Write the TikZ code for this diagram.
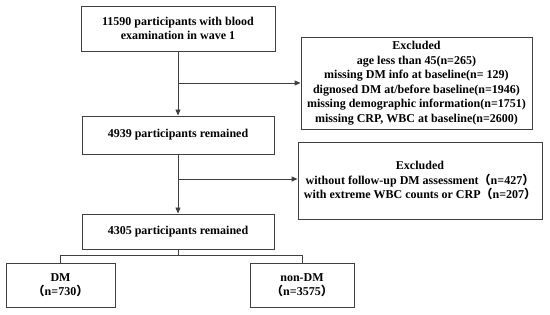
\documentclass[tikz,border=0pt]{standalone}
\usepackage{fontspec}
\setmainfont{Liberation Serif}
\newfontfamily\cjk{Noto Sans CJK SC}
\usetikzlibrary{arrows.meta}
\definecolor{linec}{HTML}{404040}
\begin{document}
\begin{tikzpicture}[x=1pt,y=-1pt,
  box/.style={draw=linec,line width=0.9pt,rectangle,align=center,font=\fontsize{12}{14.5}\selectfont\bfseries,inner sep=0pt},
  conn/.style={draw=linec,line width=0.9pt},
  arr/.style={conn,-{Triangle[length=6pt,width=5pt]}}]
\useasboundingbox (0,0) rectangle (550,315);
\node[box,minimum width=194pt,minimum height=45pt] (b1) at (178,28.5) {11590 participants with blood\\examination in wave 1};
\node[box,minimum width=231pt,minimum height=92pt] (e1) at (416.5,83) {Excluded\\age less than 45(n=265)\\missing DM info at baseline(n= 129)\\dignosed DM at/before baseline(n=1946)\\missing demographic information(n=1751)\\missing CRP, WBC at baseline(n=2600)};
\node[box,minimum width=192pt,minimum height=38pt] (b2) at (178,135) {4939 participants remained};
\node[box,minimum width=244pt,minimum height=77pt] (e2) at (420,180.5) {Excluded\\without follow-up DM assessment{\cjk （}n=427{\cjk ）}\\with extreme WBC counts or CRP{\cjk （}n=207{\cjk ）}};
\node[box,minimum width=192pt,minimum height=35pt] (b3) at (178,231.5) {4305 participants remained};
\node[box,minimum width=109pt,minimum height=44pt] (dm) at (60.5,285) {DM\\{\cjk （}n=730{\cjk ）}};
\node[box,minimum width=104pt,minimum height=44pt] (ndm) at (302,285) {non-DM\\{\cjk （}n=3575{\cjk ）}};
\coordinate (j1) at (178,83);
\coordinate (j2) at (178,179);
\coordinate (j3) at (178,255);
\draw[arr] (b1) -- (b2);
\draw[arr] (j1) -- (j1 -| e1.west);
\draw[arr] (b2) -- (b3);
\draw[arr] (j2) -- (j2 -| e2.west);
\draw[conn] (b3.south) -- (j3);
\draw[conn] (j3 -| dm) -- (j3 -| ndm);
\draw[conn] (j3 -| dm) -- (dm.north);
\draw[conn] (j3 -| ndm) -- (ndm.north);
\end{tikzpicture}
\end{document}
